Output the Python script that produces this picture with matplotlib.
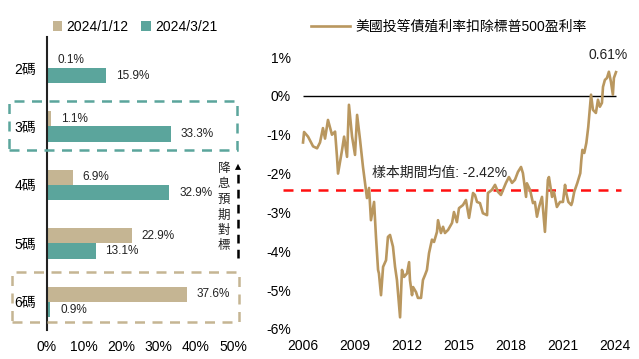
import matplotlib
matplotlib.use("Agg")
import matplotlib.pyplot as plt
from matplotlib.patches import Rectangle, FancyArrowPatch
from matplotlib.lines import Line2D

plt.rcParams['font.family'] = ['Liberation Sans', 'Noto Sans CJK TC', 'DejaVu Sans']

# ---------------- data ----------------
categories = ['2碼', '3碼', '4碼', '5碼', '6碼']
series_jan = [0.1, 1.1, 6.9, 22.9, 37.6]     # 2024/1/12
series_mar = [15.9, 33.3, 32.9, 13.1, 0.9]   # 2024/3/21
series_names = ['2024/1/12', '2024/3/21']
bar_ticks = [0, 10, 20, 30, 40, 50]

years = [2006.00, 2006.06, 2006.29, 2006.58, 2006.81, 2006.98, 2007.15, 2007.27, 2007.44,
         2007.67, 2007.85, 2007.96, 2008.02, 2008.25, 2008.37, 2008.54, 2008.65, 2008.83,
         2009.00, 2009.12, 2009.29, 2009.46, 2009.58, 2009.69, 2009.81, 2009.92, 2010.10,
         2010.21, 2010.33, 2010.38, 2010.50, 2010.62, 2010.79, 2010.90, 2011.02, 2011.19,
         2011.31, 2011.42, 2011.60, 2011.71, 2011.83, 2012.00, 2012.12, 2012.17, 2012.29,
         2012.35, 2012.52, 2012.63, 2012.81, 2012.92, 2013.04, 2013.15, 2013.27, 2013.44,
         2013.56, 2013.73, 2013.79, 2013.96, 2014.08, 2014.19, 2014.37, 2014.60, 2014.71,
         2014.88, 2015.00, 2015.23, 2015.40, 2015.58, 2015.81, 2015.92, 2016.04, 2016.21,
         2016.38, 2016.62, 2016.67, 2016.90, 2017.08, 2017.25, 2017.42, 2017.54, 2017.71,
         2017.88, 2018.06, 2018.23, 2018.40, 2018.58, 2018.69, 2018.87, 2018.92, 2019.10,
         2019.27, 2019.38, 2019.50, 2019.62, 2019.79, 2019.96, 2020.13, 2020.19, 2020.37,
         2020.48, 2020.65, 2020.83, 2021.00, 2021.12, 2021.19, 2021.31, 2021.48, 2021.54,
         2021.65, 2021.83, 2022.00, 2022.06, 2022.12, 2022.23, 2022.35, 2022.46, 2022.62,
         2022.73, 2022.90, 2023.02, 2023.13, 2023.25, 2023.31, 2023.42, 2023.54, 2023.65,
         2023.77, 2023.88, 2023.94, 2024.06]
spread = [-1.20, -0.93, -1.05, -1.30, -1.35, -1.20, -0.83, -1.10, -0.62,
          -1.00, -0.92, -1.57, -2.00, -1.40, -1.05, -1.57, -0.23, -1.05,
          -1.52, -0.49, -1.13, -1.83, -2.25, -2.63, -2.37, -3.20, -2.73,
          -3.63, -4.48, -4.57, -5.13, -4.40, -4.23, -3.63, -3.58, -3.88,
          -4.40, -4.74, -5.70, -4.48, -4.66, -4.57, -4.28, -4.74, -5.13,
          -4.92, -5.05, -5.20, -5.20, -4.74, -4.61, -4.48, -4.05, -3.70,
          -3.76, -3.50, -3.20, -3.53, -3.37, -3.53, -3.45, -3.27, -2.99,
          -3.25, -2.89, -2.81, -2.68, -3.14, -2.50, -2.55, -2.73, -2.76,
          -3.02, -3.07, -2.50, -2.42, -2.29, -2.47, -2.55, -2.42, -2.24,
          -2.09, -2.24, -2.16, -1.96, -1.83, -1.99, -2.60, -2.25, -2.42,
          -2.76, -2.73, -3.11, -2.86, -2.60, -3.50, -2.16, -2.09, -2.60,
          -2.47, -2.86, -2.73, -2.73, -2.29, -2.50, -2.73, -2.81, -2.73,
          -2.47, -2.24, -1.99, -1.65, -1.39, -1.47, -1.21, -0.80, 0.03,
          -0.36, -0.44, -0.10, -0.28, -0.18, 0.23, 0.41, 0.46, 0.62,
          0.36, 0.03, 0.46, 0.61]
mean_value = -2.42
year_ticks = [2006, 2009, 2012, 2015, 2018, 2021, 2024]
pct_ticks = [1, 0, -1, -2, -3, -4, -5, -6]
line_name = '美國投等債殖利率扣除標普500盈利率'

# ---------------- style ----------------
TAN = '#C5B593'
TEAL = '#5BA59C'
LINE = '#B9975F'
W, H = 639, 359

fig = plt.figure(figsize=(W / 100, H / 100), dpi=100)


def px_rect(l, t, r, b):
    return [l / W, 1 - b / H, (r - l) / W, (b - t) / H]


# ================= left: bar chart =================
ax1 = fig.add_axes(px_rect(47, 37, 233, 330))
ypos = list(range(len(categories)))
bh = 0.26
ax1.barh([y - bh / 2 for y in ypos], series_jan, height=bh, color=TAN, label=series_names[0])
ax1.barh([y + bh / 2 for y in ypos], series_mar, height=bh, color=TEAL, label=series_names[1])
for y, v in zip(ypos, series_jan):
    ax1.annotate(f'{v:.1f}%', (v, y - bh / 2), xytext=(7, 0), textcoords='offset points',
                 va='center', ha='left', fontsize=8.5, color='#222222')
for y, v in zip(ypos, series_mar):
    ax1.annotate(f'{v:.1f}%', (v, y + bh / 2), xytext=(7, 0), textcoords='offset points',
                 va='center', ha='left', fontsize=8.5, color='#222222')
ax1.set_xlim(0, 50)
ax1.set_ylim(4.48, -0.53)
ax1.set_yticks(ypos)
ax1.set_yticklabels(categories, fontsize=10)
ax1.set_xticks(bar_ticks)
ax1.set_xticklabels([f'{t}%' for t in bar_ticks], fontsize=10)
for s in ['top', 'right', 'bottom']:
    ax1.spines[s].set_visible(False)
ax1.spines['left'].set_color('#222222')
ax1.spines['left'].set_linewidth(1.5)
ax1.tick_params(axis='both', length=0)
ax1.tick_params(axis='y', pad=8)
ax1.tick_params(axis='x', pad=7)

ax1.legend(loc='center left', bbox_to_anchor=(0.03, 1 + 10 / 293), ncol=2, frameon=False,
           fontsize=10, handlelength=0.7, handleheight=0.7, handletextpad=0.3,
           columnspacing=0.9, borderaxespad=0.0, borderpad=0.0)

# dashed highlight boxes (figure pixel coords)
for (l, t, r, b), c in [((9, 101, 237, 150), TEAL), ((12, 272, 239, 322), TAN)]:
    fig.patches.append(Rectangle((l / W, 1 - b / H), (r - l) / W, (b - t) / H,
                                 transform=fig.transFigure, fill=False, edgecolor=c,
                                 linewidth=1.8, linestyle=(0, (4, 3))))

# vertical arrow + text
fig.add_artist(Line2D([238 / W, 238 / W], [1 - 258 / H, 1 - 170 / H], transform=fig.transFigure,
                      color='black', linewidth=1.8, linestyle=(0, (3.5, 2.5))))
fig.add_artist(FancyArrowPatch((238 / W, 1 - 172 / H), (238 / W, 1 - 161 / H),
                               transform=fig.transFigure, arrowstyle='-|>', mutation_scale=11,
                               color='black', linewidth=0))
for i, ch in enumerate('降息預期對標'):
    fig.text(224 / W, 1 - (169 + i * 15.5) / H, ch, ha='center', va='center', fontsize=9,
             color='#222222')

# ================= right: line chart =================
ax2 = fig.add_axes(px_rect(298, 57, 625, 329))
ax2.plot(years, spread, color=LINE, linewidth=1.9, label=line_name, zorder=3)
ax2.hlines(0, years[0], years[-1], color='black', linewidth=1.0, zorder=2)
ax2.plot([2004.85, 2024.35], [mean_value, mean_value], color='#FF1010', linewidth=1.8,
         linestyle=(0, (4, 3)), clip_on=False, zorder=2)
ax2.set_xlim(2005.71, 2024.58)
ax2.set_ylim(-6, 1)
ax2.set_xticks(year_ticks)
ax2.set_xticklabels([str(t) for t in year_ticks], fontsize=10)
ax2.set_yticks(pct_ticks)
ax2.set_yticklabels([f'{t}%' for t in pct_ticks], fontsize=10)
for s in ax2.spines.values():
    s.set_visible(False)
ax2.tick_params(axis='both', length=0)
ax2.tick_params(axis='y', pad=5)
ax2.tick_params(axis='x', pad=7)

ax2.text(2010.0, -1.98, f'樣本期間均值: {mean_value:.2f}%', fontsize=10, color='#222222',
         ha='left', va='center')
ax2.annotate(f'{spread[-1]:.2f}%', (years[-1], spread[-1]), xytext=(-6, 7),
             textcoords='offset points', ha='center', va='bottom', fontsize=10, color='#222222')

ax2.legend(loc='center', bbox_to_anchor=(0.462, 1 + 30 / 272), frameon=False, fontsize=10,
           handlelength=2.8, handletextpad=0.4, borderaxespad=0.0, borderpad=0.0)

fig.savefig('out.png', dpi=100)
